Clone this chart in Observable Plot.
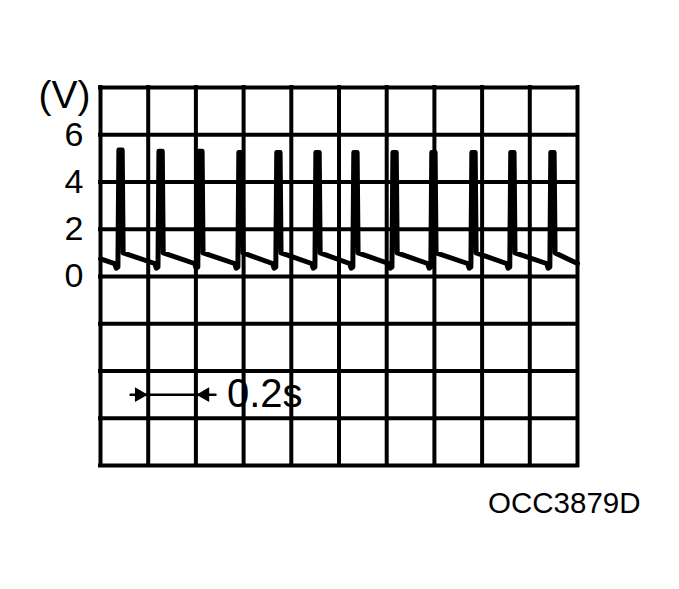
<!DOCTYPE html>
<html>
<head>
<meta charset="utf-8">
<script src="https://cdn.jsdelivr.net/npm/d3@7"></script>
<script src="https://cdn.jsdelivr.net/npm/@observablehq/plot@0.6"></script>
<style>
  html, body { margin: 0; padding: 0; background: #fff; }
  #chart svg { display: block; }
</style>
</head>
<body>
<div id="chart"></div>
<script>
// Grid divisions: time (s) and voltage (V)
const xGrid = [0, 0.2, 0.4, 0.6, 0.8, 1.0, 1.2, 1.4, 1.6, 1.8, 2.0];
const yGrid = [-8, -6, -4, -2, 0, 2, 4, 6, 8];
const yTickLabels = [0, 2, 4, 6];

// Oscilloscope trace (time in s, voltage in V)
const traceT = [
  0.000,
  0.059, 0.066, 0.073, 0.077, 0.091, 0.095,
  0.227, 0.234, 0.241, 0.245, 0.259, 0.263,
  0.394, 0.401, 0.408, 0.412, 0.426, 0.430,
  0.562, 0.569, 0.576, 0.580, 0.594, 0.598,
  0.721, 0.728, 0.735, 0.739, 0.753, 0.757,
  0.885, 0.892, 0.899, 0.903, 0.917, 0.921,
  1.044, 1.051, 1.058, 1.062, 1.076, 1.080,
  1.208, 1.215, 1.222, 1.226, 1.240, 1.244,
  1.371, 1.378, 1.385, 1.389, 1.403, 1.407,
  1.539, 1.546, 1.553, 1.557, 1.571, 1.575,
  1.702, 1.709, 1.716, 1.720, 1.734, 1.738,
  1.870, 1.877, 1.884, 1.888, 1.902, 1.906,
  2.000
];
const traceV = [
  0.75,
  0.55, 0.35, 0.40, 5.35, 5.35, 1.00,
  0.55, 0.35, 0.40, 5.30, 5.30, 1.00,
  0.55, 0.35, 0.40, 5.30, 5.30, 1.00,
  0.55, 0.35, 0.40, 5.25, 5.25, 1.00,
  0.55, 0.35, 0.40, 5.25, 5.25, 1.00,
  0.55, 0.35, 0.40, 5.25, 5.25, 1.00,
  0.55, 0.35, 0.40, 5.25, 5.25, 1.00,
  0.55, 0.35, 0.40, 5.25, 5.25, 1.00,
  0.55, 0.35, 0.40, 5.25, 5.25, 1.00,
  0.55, 0.35, 0.40, 5.25, 5.25, 1.00,
  0.55, 0.35, 0.40, 5.25, 5.25, 1.00,
  0.55, 0.35, 0.40, 5.25, 5.25, 1.00,
  0.55
];

// Time-base annotation
const scaleLabel = "0.2s";
const scaleLineT = [0.126, 0.482];
const scaleTipsT = [0.2, 0.4];
const scaleV = -5;
const unitLabel = "(V)";
const caption = "OCC3879D";

const trace = traceT.map((t, i) => ({t, v: traceV[i]}));
const FONT = "'Liberation Sans', Arial, Helvetica, sans-serif";

const chart = Plot.plot({
  width: 679,
  height: 589,
  marginLeft: 100,
  marginRight: 102,
  marginTop: 87,
  marginBottom: 124,
  style: {fontFamily: FONT, background: "#fff", color: "#000"},
  x: {domain: [0, 2], axis: null},
  y: {domain: [-8, 8]},
  marks: [
    Plot.ruleX(xGrid, {stroke: "#000", strokeWidth: 4, strokeLinecap: "square"}),
    Plot.ruleY(yGrid, {stroke: "#000", strokeWidth: 4, strokeLinecap: "square"}),
    Plot.axisY(yTickLabels, {tickSize: 0, tickPadding: 17, fontSize: 34, label: null, fontFamily: FONT, stroke: "#000", strokeWidth: 0.6}),
    Plot.line(trace, {x: "t", y: "v", stroke: "#000", strokeWidth: 5, strokeLinejoin: "round", strokeLinecap: "round"}),
    // time-base arrow
    Plot.line(scaleLineT.map(t => ({t, v: scaleV})), {x: "t", y: "v", stroke: "#000", strokeWidth: 2.5}),
    Plot.dot([{t: scaleTipsT[0], v: scaleV}], {x: "t", y: "v", symbol: "triangle", r: 5.5, rotate: 90, fill: "#000", stroke: "none", dx: -9}),
    Plot.dot([{t: scaleTipsT[1], v: scaleV}], {x: "t", y: "v", symbol: "triangle", r: 5.5, rotate: -90, fill: "#000", stroke: "none", dx: 9}),
    Plot.text([scaleLabel], {x: 0.53, y: scaleV, text: d => d, textAnchor: "start", lineAnchor: "middle", fontSize: 40, fill: "#000", fontFamily: FONT}),
    Plot.text([unitLabel], {frameAnchor: "top-left", text: d => d, dx: -36, dy: 8, textAnchor: "middle", lineAnchor: "middle", fontSize: 39, fill: "#000", fontFamily: FONT}),
    Plot.text([caption], {frameAnchor: "bottom-right", text: d => d, dx: 63, dy: 38, textAnchor: "end", lineAnchor: "middle", fontSize: 29.5, fill: "#000", fontFamily: FONT})
  ]
});

document.getElementById("chart").appendChild(chart);
</script>
</body>
</html>
